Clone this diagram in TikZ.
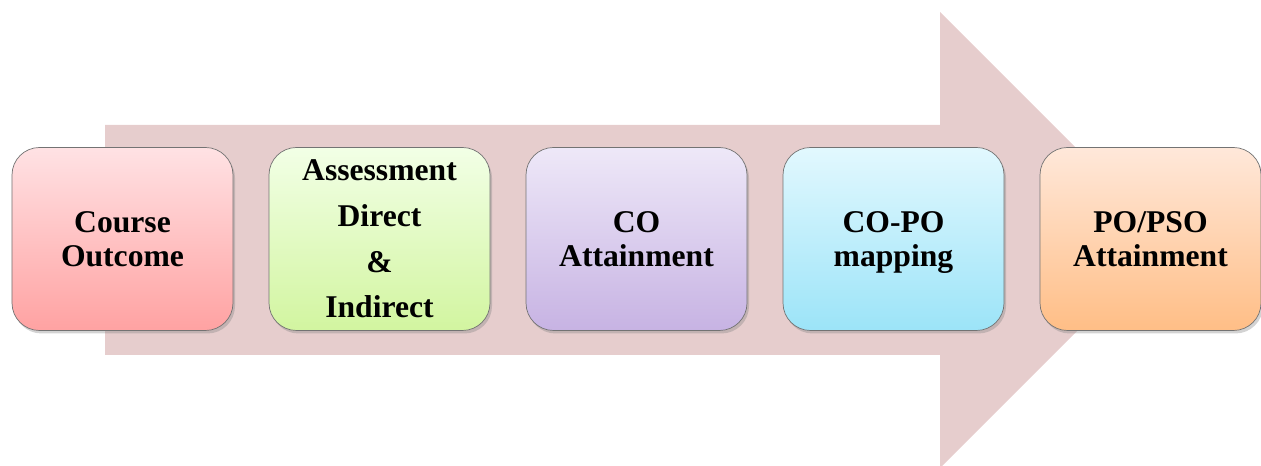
\documentclass[tikz,border=0pt]{standalone}
\usepackage{fontspec}
\setmainfont{Liberation Serif}
\usepackage{xcolor}
\usetikzlibrary{shadows}
\definecolor{flowcolor}{HTML}{E6CDCD}
\definecolor{outcometop}{HTML}{FFE2E4}
\definecolor{outcomebot}{HTML}{FFA2A2}
\definecolor{assesstop}{HTML}{F2FFE6}
\definecolor{assessbot}{HTML}{D2F5A0}
\definecolor{cotop}{HTML}{EEE8F8}
\definecolor{cobot}{HTML}{C7B3E3}
\definecolor{maptop}{HTML}{E2F8FE}
\definecolor{mapbot}{HTML}{9CE4F8}
\definecolor{potop}{HTML}{FFE8DA}
\definecolor{pobot}{HTML}{FFBE86}
\tikzset{stage/.style={draw=black!55,thin,rounded corners=5.5mm,minimum width=44.2mm,minimum height=36.6mm,inner sep=2pt,align=center,font=\fontsize{18}{19.5}\selectfont\bfseries,drop shadow={shadow xshift=.4mm,shadow yshift=-.6mm,opacity=.35}},flow/.style={fill=flowcolor,draw=none}}

\begin{document}
\begin{tikzpicture}[x=0.2mm,y=-0.2mm]
 \useasboundingbox (0,0) rectangle (1261,466);
 % the big arrow behind the stages
 \fill[flow] (105,125) -- (940,125) -- (940,12) -- (1168,240) -- (940,468) -- (940,355) -- (105,355) -- cycle;
 \foreach \n/\x/\ct/\cb/\txt in {outcome/122.5/outcometop/outcomebot/{Course\\Outcome},
   co/636.5/cotop/cobot/{CO\\Attainment},
   map/893.5/maptop/mapbot/{CO-PO\\\smash{mapping}},
   po/1150.5/potop/pobot/{PO/PSO\\Attainment}} {
   \node[stage,top color=\ct,bottom color=\cb] (\n) at (\x,239) {\txt};
 }
 \node[stage,top color=assesstop,bottom color=assessbot,font=\fontsize{18}{26}\selectfont\bfseries] (assess) at (379.5,239) {Assessment\\Direct\\\&\\Indirect};
\end{tikzpicture}
\end{document}
